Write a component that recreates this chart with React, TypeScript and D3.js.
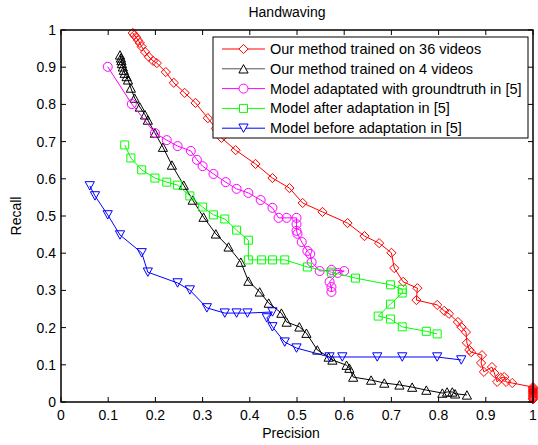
import React from "react";
import * as d3 from "d3";

const xTicks = [0, 0.1, 0.2, 0.3, 0.4, 0.5, 0.6, 0.7, 0.8, 0.9, 1];
const yTicks = [0, 0.1, 0.2, 0.3, 0.4, 0.5, 0.6, 0.7, 0.8, 0.9, 1];
const xTickLabels = ["0", "0.1", "0.2", "0.3", "0.4", "0.5", "0.6", "0.7", "0.8", "0.9", "1"];
const yTickLabels = ["0", "0.1", "0.2", "0.3", "0.4", "0.5", "0.6", "0.7", "0.8", "0.9", "1"];

const ours36: [number, number][] = [
  [0.152, 0.992], [0.155, 0.986], [0.159, 0.981], [0.163, 0.973], [0.167, 0.965], [0.171, 0.955],
  [0.178, 0.941], [0.186, 0.928], [0.195, 0.917], [0.203, 0.911], [0.222, 0.887], [0.239, 0.858],
  [0.262, 0.831], [0.285, 0.804], [0.311, 0.763], [0.328, 0.735], [0.340, 0.710], [0.370, 0.677],
  [0.412, 0.640], [0.448, 0.602], [0.484, 0.575], [0.512, 0.535], [0.554, 0.511], [0.607, 0.481],
  [0.643, 0.446], [0.674, 0.427], [0.700, 0.401], [0.706, 0.360], [0.725, 0.323], [0.755, 0.306],
  [0.753, 0.274], [0.797, 0.261], [0.812, 0.245], [0.822, 0.237], [0.841, 0.215], [0.848, 0.202],
  [0.858, 0.188], [0.860, 0.159], [0.865, 0.140], [0.869, 0.134], [0.892, 0.126], [0.890, 0.105],
  [0.896, 0.081], [0.913, 0.094], [0.918, 0.078], [0.924, 0.054], [0.932, 0.065], [0.939, 0.067],
  [0.943, 0.054], [0.956, 0.051], [1.0, 0.040], [1.0, 0.037], [1.0, 0.034], [1.0, 0.031],
  [1.0, 0.028], [1.0, 0.025], [1.0, 0.022], [1.0, 0.019], [1.0, 0.016], [1.0, 0.013],
  [1.0, 0.010], [1.0, 0.007],
];

const ours4: [number, number][] = [
  [0.125, 0.933], [0.127, 0.925], [0.128, 0.918], [0.129, 0.910], [0.131, 0.901], [0.133, 0.892],
  [0.135, 0.884], [0.139, 0.875], [0.142, 0.866], [0.148, 0.844], [0.156, 0.817], [0.167, 0.793],
  [0.178, 0.772], [0.184, 0.758], [0.199, 0.723], [0.216, 0.685], [0.235, 0.637], [0.260, 0.583],
  [0.279, 0.543], [0.302, 0.497], [0.328, 0.452], [0.355, 0.417], [0.381, 0.376], [0.397, 0.325],
  [0.421, 0.296], [0.440, 0.266], [0.467, 0.239], [0.478, 0.215], [0.505, 0.202], [0.520, 0.185],
  [0.543, 0.140], [0.567, 0.121], [0.575, 0.113], [0.605, 0.099], [0.611, 0.091], [0.619, 0.067],
  [0.657, 0.059], [0.685, 0.051], [0.717, 0.046], [0.744, 0.040], [0.774, 0.032], [0.808, 0.024],
  [0.818, 0.027], [0.829, 0.027], [0.835, 0.022], [0.860, 0.019],
];

const adaptedGT: [number, number][] = [
  [0.099, 0.901], [0.150, 0.801], [0.199, 0.723], [0.224, 0.704], [0.247, 0.688], [0.275, 0.675],
  [0.288, 0.651], [0.300, 0.634], [0.323, 0.613], [0.349, 0.591], [0.372, 0.573], [0.397, 0.562],
  [0.423, 0.543], [0.448, 0.522], [0.461, 0.495], [0.478, 0.495], [0.499, 0.495], [0.499, 0.478],
  [0.499, 0.460], [0.501, 0.452], [0.510, 0.430], [0.522, 0.406], [0.528, 0.398], [0.531, 0.376],
  [0.548, 0.352], [0.573, 0.355], [0.600, 0.352], [0.586, 0.347], [0.569, 0.323], [0.573, 0.309],
  [0.573, 0.296],
];

const afterAdapt: [number, number][] = [
  [0.135, 0.691], [0.148, 0.656], [0.171, 0.624], [0.199, 0.602], [0.224, 0.591], [0.247, 0.583],
  [0.273, 0.554], [0.300, 0.524], [0.323, 0.503], [0.347, 0.492], [0.372, 0.462], [0.397, 0.435],
  [0.397, 0.382], [0.425, 0.382], [0.448, 0.382], [0.474, 0.382], [0.522, 0.363], [0.573, 0.349],
  [0.624, 0.333], [0.698, 0.315], [0.723, 0.303], [0.723, 0.293], [0.698, 0.263], [0.672, 0.231],
  [0.698, 0.223], [0.723, 0.202], [0.774, 0.190], [0.797, 0.183],
];

const beforeAdapt: [number, number][] = [
  [0.061, 0.581], [0.072, 0.554], [0.099, 0.503], [0.125, 0.449], [0.171, 0.401], [0.184, 0.349],
  [0.247, 0.320], [0.273, 0.301], [0.309, 0.253], [0.347, 0.239], [0.372, 0.239], [0.395, 0.239],
  [0.448, 0.242], [0.436, 0.226], [0.448, 0.202], [0.474, 0.161], [0.499, 0.145], [0.569, 0.121],
  [0.596, 0.121], [0.670, 0.121], [0.723, 0.121], [0.797, 0.121], [0.848, 0.113],
];

const seriesNames = [
  "Our method trained on 36 videos",
  "Our method trained on 4 videos",
  "Model adaptated with groundtruth in [5]",
  "Model after adaptation in [5]",
  "Model before adaptation in [5]",
];
const seriesColors = ["#ff0000", "#000000", "#ff00ff", "#00ff00", "#0000ff"];
const seriesMarkers = ["diamond", "triangleUp", "circle", "square", "triangleDown"];
const seriesData = [ours36, ours4, adaptedGT, afterAdapt, beforeAdapt];

const W = 538;
const H = 445;
const left = 61;
const right = 533;
const top = 30;
const bottom = 402;
const FONT = "'Liberation Sans', Arial, Helvetica, sans-serif";
const FS = 14;
const LFS = 14.5;

function markerPath(type: string, cx: number, cy: number): string {
  switch (type) {
    case "diamond": {
      const r = 4.6;
      return `M${cx},${cy - r}L${cx + r},${cy}L${cx},${cy + r}L${cx - r},${cy}Z`;
    }
    case "triangleUp": {
      const w = 4.6, h = 4.2;
      return `M${cx},${cy - h}L${cx + w},${cy + h}L${cx - w},${cy + h}Z`;
    }
    case "triangleDown": {
      const w = 4.6, h = 4.2;
      return `M${cx},${cy + h}L${cx + w},${cy - h}L${cx - w},${cy - h}Z`;
    }
    case "square": {
      const s = 4;
      return `M${cx - s},${cy - s}L${cx + s},${cy - s}L${cx + s},${cy + s}L${cx - s},${cy + s}Z`;
    }
    default: {
      const r = 4.5;
      return `M${cx - r},${cy}A${r},${r} 0 1,0 ${cx + r},${cy}A${r},${r} 0 1,0 ${cx - r},${cy}Z`;
    }
  }
}

export default function App() {
  const x = d3.scaleLinear().domain([0, 1]).range([left, right]);
  const y = d3.scaleLinear().domain([0, 1]).range([bottom, top]);
  const line = d3
    .line<[number, number]>()
    .x((d) => x(d[0]))
    .y((d) => y(d[1]));

  const tickLen = 5;
  const legX = 213, legY = 37, legW = 315, legH = 101;
  const rowStart = 49, rowStep = 19.8;

  return (
    <svg width={W} height={H} style={{ position: "absolute", left: 0, top: 0, background: "#fff" }}>
      <rect x={0} y={0} width={W} height={H} fill="#fff" />
      <text x={(left + right) / 2 - 10} y={17} textAnchor="middle" fontFamily={FONT} fontSize={FS}>
        Handwaving
      </text>

      {/* ticks */}
      {xTicks.map((t, i) => (
        <g key={"xt" + i}>
          <line x1={x(t)} x2={x(t)} y1={bottom} y2={bottom - tickLen} stroke="#000" strokeWidth={1} />
          <line x1={x(t)} x2={x(t)} y1={top} y2={top + tickLen} stroke="#000" strokeWidth={1} />
          <text x={x(t)} y={bottom + 18} textAnchor="middle" fontFamily={FONT} fontSize={FS}>
            {xTickLabels[i]}
          </text>
        </g>
      ))}
      {yTicks.map((t, i) => (
        <g key={"yt" + i}>
          <line x1={left} x2={left + tickLen} y1={y(t)} y2={y(t)} stroke="#000" strokeWidth={1} />
          <line x1={right} x2={right - tickLen} y1={y(t)} y2={y(t)} stroke="#000" strokeWidth={1} />
          <text x={left - 5} y={y(t) + 5} textAnchor="end" fontFamily={FONT} fontSize={FS}>
            {yTickLabels[i]}
          </text>
        </g>
      ))}

      {/* series */}
      {seriesData.map((data, si) => (
        <g key={"s" + si}>
          <path d={line(data) || ""} fill="none" stroke={seriesColors[si]} strokeWidth={1} />
          {data.map((d, j) => (
            <path
              key={j}
              d={markerPath(seriesMarkers[si], x(d[0]), y(d[1]))}
              fill="none"
              stroke={seriesColors[si]}
              strokeWidth={1}
            />
          ))}
        </g>
      ))}

      {/* frame */}
      <rect x={left} y={top} width={right - left} height={bottom - top} fill="none" stroke="#000" strokeWidth={1.5} />

      {/* axis labels */}
      <text x={(left + right) / 2 - 6} y={438} textAnchor="middle" fontFamily={FONT} fontSize={FS}>
        Precision
      </text>
      <text
        transform={`translate(21,${(top + bottom) / 2}) rotate(-90)`}
        textAnchor="middle"
        fontFamily={FONT}
        fontSize={FS}
      >
        Recall
      </text>

      {/* legend */}
      <rect x={legX} y={legY} width={legW} height={legH} fill="#fff" stroke="#000" strokeWidth={1} />
      {seriesNames.map((name, i) => {
        const ry = rowStart + i * rowStep;
        return (
          <g key={"lg" + i}>
            <line x1={222} x2={265} y1={ry} y2={ry} stroke={seriesColors[i] === "#000000" ? "#555" : seriesColors[i]} strokeWidth={1} />
            <path d={markerPath(seriesMarkers[i], 243.5, ry)} fill="#fff" stroke={seriesColors[i]} strokeWidth={1} />
            <text x={270} y={ry + 5} fontFamily={FONT} fontSize={LFS}>
              {name}
            </text>
          </g>
        );
      })}
    </svg>
  );
}
